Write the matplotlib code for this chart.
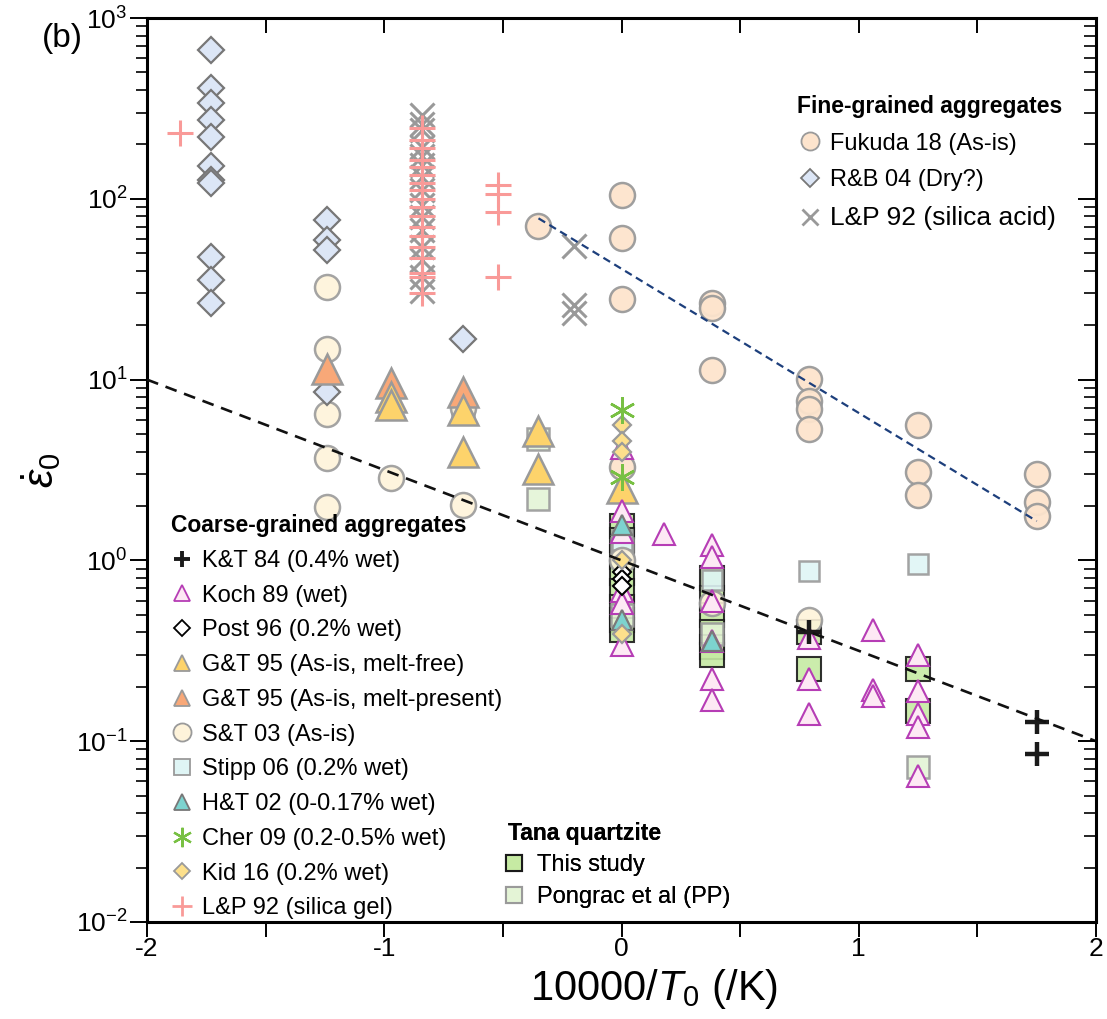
import matplotlib
matplotlib.use('Agg')
import matplotlib.pyplot as plt
from matplotlib.lines import Line2D
from matplotlib.ticker import LogLocator, NullFormatter, MultipleLocator
import numpy as np

plt.rcParams['font.family'] = 'Liberation Sans'
plt.rcParams['mathtext.fontset'] = 'custom'
plt.rcParams['mathtext.rm'] = 'Liberation Sans'
plt.rcParams['mathtext.it'] = 'Liberation Sans:italic'
plt.rcParams['mathtext.bf'] = 'Liberation Sans:bold'
plt.rcParams['axes.unicode_minus'] = False

# ---- fine-grained aggregates ----
fuk_x = [-0.35, 0, 0, 0, 0, 0.38, 0.38, 0.38, 0.79, 0.79, 0.79, 0.79, 1.25, 1.25, 1.25, 1.75, 1.75, 1.75]
fuk_y = [71, 105, 61, 28, 3.3, 26.5, 25, 11.3, 10.1, 7.6, 6.9, 5.3, 5.6, 3.1, 2.3, 3.0, 2.1, 1.75]

rb_x = [-1.73] * 11 + [-1.24] * 4 + [-0.67]
rb_y = [665, 410, 339, 273, 220, 152, 127, 122, 47.6, 35.6, 26.5, 76, 59, 52, 8.5, 16.8]

lpa_x = [-0.84] * 15 + [-0.2] * 3
lpa_y = [291, 260, 240, 194, 172, 154, 132, 112, 92, 79, 67, 54, 46, 37, 31, 55, 26, 23.5]

# ---- coarse-grained aggregates ----
kt_x = [0.79, 1.75, 1.75]
kt_y = [0.40, 0.128, 0.085]

koch_x = [0] * 6 + [0.18] + [0.38] * 6 + [0.79] * 3 + [1.06] * 3 + [1.25] * 5
koch_y = [4.2, 1.88, 1.44, 0.68, 0.58, 0.34, 1.4,
          1.22, 1.04, 0.60, 0.36, 0.22, 0.17,
          0.37, 0.22, 0.142,
          0.41, 0.193, 0.177,
          0.30, 0.19, 0.142, 0.12, 0.064]

post_x = [0, 0, 0]
post_y = [0.86, 0.79, 0.72]

gtf_x = [-0.97, -0.97, -0.67, -0.67, -0.35, -0.35, 0]
gtf_y = [8.0, 7.2, 6.8, 4.0, 5.2, 3.2, 2.5]

gtm_x = [-1.24, -0.97, -0.67]
gtm_y = [11.5, 9.6, 8.5]

st_x = [-1.24, -1.24, -1.24, -1.24, -1.24, -0.97, -0.67, -0.67, 0, 0.38, 0.79]
st_y = [32.5, 14.8, 6.45, 3.68, 1.97, 2.86, 7.0, 2.02, 1.0, 0.58, 0.47]

stipp_x = [0, 0.38, 0.79, 1.25]
stipp_y = [1.3, 0.78, 0.87, 0.95]

ht_x = [0, 0, 0.38]
ht_y = [1.57, 0.47, 0.36]

cher_x = [0, 0]
cher_y = [6.8, 2.9]

kid_x = [0, 0, 0, 0, 0]
kid_y = [5.6, 4.6, 4.0, 1.0, 0.39]

lpg_x = [-1.86] + [-0.84] * 18 + [-0.52] * 4
lpg_y = [231, 246, 211, 191, 164, 150, 135, 122, 112, 100, 90, 80, 70, 62, 54, 47, 39, 37, 30,
         119, 106, 84.5, 37]

# ---- Tana quartzite ----
tana_x = [0] * 8 + [0.38] * 6 + [0.79] * 2 + [1.25] * 2
tana_y = [1.55, 1.3, 1.05, 0.85, 0.68, 0.55, 0.47, 0.41,
          0.8, 0.62, 0.5, 0.4, 0.33, 0.3,
          0.40, 0.25,
          0.25, 0.147]

pp_x = [-0.67, -0.35, -0.35, 0, 0, 0.38, 1.25]
pp_y = [6.6, 4.7, 2.2, 1.15, 0.5, 0.39, 0.072]

# trend lines
coarse_line_x = [-2, 2]
coarse_line_y = [10, 0.1]
fine_line_x = [-0.35, 1.75]
fine_line_y = [78, 1.65]

GRAY = '#9a9a9a'
c_fuk = '#fde4cd'
c_st = '#fef3da'
c_rb = '#dce6f6'
c_gtf = '#fdd36b'
c_gtm = '#f8a878'
c_stipp = '#dff5f5'
c_pp = '#e4f4d6'
c_tana = '#c6eaa3'
c_ht = '#7dd3cf'
c_koch = '#fde9f4'
c_koch_e = '#b63db5'
c_kid = '#fde08c'
c_cher = '#78c043'
c_lpg = '#f99a98'
c_lpa = '#999999'
asterisk = (6, 2, 0)

fig = plt.figure(figsize=(11.07, 10.19), dpi=100)
ax = fig.add_axes([0.1328, 0.0952, 0.8573, 0.8871])

ms_kw = dict(linestyle='none')
ax.plot(tana_x, tana_y, 's', ms=17, mfc=c_tana, mec='#1a1a1a', mew=1.5, alpha=0.9, zorder=2, **ms_kw)
ax.plot(pp_x, pp_y, 's', ms=16, mfc=c_pp, mec=GRAY, mew=1.8, alpha=0.9, zorder=2, **ms_kw)
ax.plot(stipp_x, stipp_y, 's', ms=14, mfc=c_stipp, mec=GRAY, mew=1.8, alpha=0.9, zorder=2, **ms_kw)
ax.plot(st_x, st_y, 'o', ms=18, mfc=c_st, mec=GRAY, mew=1.8, alpha=0.9, zorder=3, **ms_kw)
ax.plot(fuk_x, fuk_y, 'o', ms=18, mfc=c_fuk, mec=GRAY, mew=1.8, alpha=0.95, zorder=3, **ms_kw)
ax.plot(rb_x, rb_y, 'D', ms=13, mfc=c_rb, mec='#777777', mew=1.6, zorder=3, **ms_kw)
ax.plot(gtm_x, gtm_y, '^', ms=22, mfc=c_gtm, mec=GRAY, mew=1.8, zorder=3, **ms_kw)
ax.plot(gtf_x, gtf_y, '^', ms=22, mfc=c_gtf, mec=GRAY, mew=1.8, zorder=3, **ms_kw)
ax.plot(koch_x, koch_y, '^', ms=16, mfc=c_koch, mec=c_koch_e, mew=1.5, zorder=4, **ms_kw)
ax.plot(ht_x, ht_y, '^', ms=15, mfc=c_ht, mec='#7a7a7a', mew=1.6, zorder=4, **ms_kw)
ax.plot(post_x, post_y, 'D', ms=9.5, mfc='white', mec='black', mew=1.5, zorder=5, **ms_kw)
ax.plot(kid_x, kid_y, 'D', ms=9.5, mfc=c_kid, mec=GRAY, mew=1.6, zorder=5, **ms_kw)
ax.plot(kt_x, kt_y, '+', ms=17, mec='#1a1a1a', mew=3.2, zorder=6, **ms_kw)
ax.plot(cher_x, cher_y, marker=asterisk, ms=19, mec=c_cher, mew=1.8, zorder=6, **ms_kw)
ax.plot(lpa_x, lpa_y, 'x', ms=17, mec=c_lpa, mew=2.2, zorder=5, **ms_kw)
ax.plot(lpg_x, lpg_y, '+', ms=19, mec=c_lpg, mew=2.2, zorder=6, **ms_kw)

ax.plot(coarse_line_x, coarse_line_y, color='#111111', lw=1.9, ls=(0, (4.5, 3)), zorder=7)
ax.plot(fine_line_x, fine_line_y, color='#1d3f7c', lw=1.6, ls=(0, (3.5, 2.2)), zorder=7)

ax.set_xlim(-2, 2)
ax.set_yscale('log')
ax.set_ylim(1e-2, 1e3)

for sp in ax.spines.values():
    sp.set_linewidth(2.2)

ax.xaxis.set_major_locator(MultipleLocator(1))
ax.xaxis.set_minor_locator(MultipleLocator(0.5))
ax.tick_params(axis='x', which='both', direction='out', length=10.5, width=1.4,
               labelsize=19, pad=0.5, top=False)
ax.yaxis.set_major_locator(LogLocator(base=10, numticks=10))
ax.yaxis.set_minor_locator(LogLocator(base=10, subs=np.arange(2, 10), numticks=20))
ax.yaxis.set_minor_formatter(NullFormatter())
ax.tick_params(axis='y', which='major', direction='out', length=12, width=1.4, labelsize=19, pad=2, right=False)
ax.tick_params(axis='y', which='minor', direction='out', length=8, width=1.2, right=False)

# inward ticks on the top and right frame
axr = ax.twinx()
axr.set_yscale('log')
axr.set_ylim(1e-2, 1e3)
axr.yaxis.set_major_locator(LogLocator(base=10, numticks=10))
axr.yaxis.set_minor_locator(LogLocator(base=10, subs=np.arange(2, 10), numticks=20))
axr.tick_params(axis='y', which='major', direction='in', length=13, width=1.4, labelright=False)
axr.tick_params(axis='y', which='minor', direction='in', length=9, width=1.2, labelright=False)
axr.yaxis.set_minor_formatter(NullFormatter())
for sp in axr.spines.values():
    sp.set_visible(False)

axt = ax.twiny()
axt.set_xlim(-2, 2)
axt.xaxis.set_major_locator(MultipleLocator(0.5))
axt.tick_params(axis='x', which='both', direction='in', length=10.5, width=1.4, labeltop=False)
for sp in axt.spines.values():
    sp.set_visible(False)

ax.set_xlabel('10000/$T_0$ (/K)', fontsize=30)
ax.xaxis.set_label_coords(0.534, -0.05)
ax.set_ylabel(r'$\dot{\varepsilon}_0$', fontsize=30)
ax.yaxis.set_label_coords(-0.088, 0.5)
fig.text(42 / 1107, 1 - 38 / 1019, '(b)', fontsize=24, va='center', ha='left')


def mk(marker, ms, fc='none', ec='none', mew=1.3):
    return Line2D([], [], linestyle='none', marker=marker, ms=ms, mfc=fc, mec=ec, mew=mew)


leg_kw = dict(frameon=False, fontsize=17, alignment='left', borderpad=0, borderaxespad=0,
              title_fontproperties={'weight': 'bold', 'size': 16.5})

coarse_handles = [
    mk('+', 12, ec='#1a1a1a', mew=2.8),
    mk('^', 12, fc=c_koch, ec=c_koch_e),
    mk('D', 8, fc='white', ec='black'),
    mk('^', 12, fc=c_gtf, ec=GRAY),
    mk('^', 12, fc=c_gtm, ec=GRAY),
    mk('o', 13, fc=c_st, ec=GRAY),
    mk('s', 12, fc=c_stipp, ec=GRAY),
    mk('^', 12, fc=c_ht, ec='#777777'),
    mk(asterisk, 14, ec=c_cher, mew=1.6),
    mk('D', 8, fc=c_kid, ec=GRAY),
    mk('+', 14, ec=c_lpg, mew=2.0),
]
coarse_labels = ['K&T 84 (0.4% wet)', 'Koch 89 (wet)', 'Post 96 (0.2% wet)',
                 'G&T 95 (As-is, melt-free)', 'G&T 95 (As-is, melt-present)',
                 'S&T 03 (As-is)', 'Stipp 06 (0.2% wet)', 'H&T 02 (0-0.17% wet)',
                 'Cher 09 (0.2-0.5% wet)', 'Kid 16 (0.2% wet)', 'L&P 92 (silica gel)']
leg1 = ax.legend(coarse_handles, coarse_labels, title='Coarse-grained aggregates',
                 loc='upper left', bbox_to_anchor=(0.0253, 0.4513),
                 handlelength=0.95, handletextpad=0.38, labelspacing=0.54, **leg_kw)
ax.add_artist(leg1)

fine_handles = [
    mk('o', 13, fc=c_fuk, ec=GRAY),
    mk('D', 9, fc=c_rb, ec='#777777'),
    mk('x', 12, ec=c_lpa, mew=2.0),
]
fine_labels = ['Fukuda 18 (As-is)', 'R&B 04 (Dry?)', 'L&P 92 (silica acid)']
leg2 = ax.legend(fine_handles, fine_labels, title='Fine-grained aggregates',
                 loc='upper left', bbox_to_anchor=(0.685, 0.915),
                 handlelength=1.1, handletextpad=0.3, labelspacing=0.62, **leg_kw)
leg2.get_texts()[2].set_fontsize(19)
ax.add_artist(leg2)

tana_handles = [
    mk('s', 11, fc=c_tana, ec='#1a1a1a', mew=1.5),
    mk('s', 11, fc=c_pp, ec=GRAY, mew=1.5),
]
tana_labels = ['This study', 'Pongrac et al (PP)']
leg3 = ax.legend(tana_handles, tana_labels, title='Tana quartzite',
                 loc='upper left', bbox_to_anchor=(0.380, 0.1106),
                 handlelength=0.5, handletextpad=0.75, labelspacing=0.4, **leg_kw)
ax.add_artist(leg3)

fig.savefig('out.png', dpi=100)
